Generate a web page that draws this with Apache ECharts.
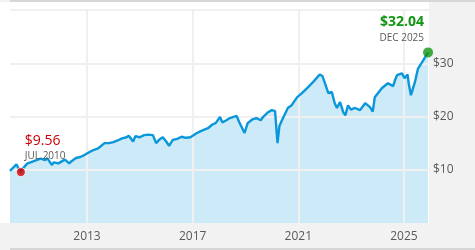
<!DOCTYPE html>
<html><head><meta charset="utf-8">
<script src="https://cdn.jsdelivr.net/npm/echarts@6/dist/echarts.min.js"></script>
<style>html,body{margin:0;padding:0;background:#fff}#c{width:475px;height:250px}</style>
</head><body><div id="c"></div>
<script>
var dates = ['2010-02-01','2010-04-01','2010-05-01','2010-06-01','2010-07-01','2010-08-01','2010-10-01','2010-12-01',
'2011-02-01','2011-04-01','2011-06-01','2011-07-01','2011-09-01','2011-10-01','2011-12-01',
'2012-03-01','2012-05-01','2012-06-01','2012-08-01','2012-10-01','2012-12-01',
'2013-02-01','2013-04-01','2013-06-01','2013-09-01','2013-11-01',
'2014-01-01','2014-03-01','2014-05-01','2014-07-01','2014-08-01','2014-10-01','2014-11-01',
'2015-01-01','2015-03-01','2015-05-01','2015-07-01','2015-08-15','2015-10-01','2015-11-15',
'2016-01-01','2016-02-10','2016-04-01','2016-06-01','2016-08-01','2016-10-01','2016-12-01',
'2017-03-01','2017-05-01','2017-08-01','2017-10-01','2017-11-15',
'2018-01-15','2018-02-15','2018-04-01','2018-06-01','2018-09-01','2018-10-15','2018-12-20',
'2019-02-01','2019-04-01','2019-06-01','2019-08-01','2019-09-01','2019-11-10',
'2020-01-01','2020-02-15','2020-03-20','2020-04-15','2020-05-20','2020-08-10','2020-10-01','2020-10-20','2020-12-15',
'2021-02-20','2021-04-30','2021-07-10','2021-09-10','2021-10-25','2021-12-01',
'2022-01-01','2022-02-20','2022-04-10','2022-05-20','2022-06-20','2022-08-01','2022-09-15','2022-10-15','2022-11-20','2022-12-30',
'2023-02-25','2023-05-05','2023-07-15','2023-09-20','2023-10-28','2023-11-25',
'2024-03-01','2024-05-25','2024-08-05','2024-08-30','2024-09-28','2024-12-05',
'2025-01-10','2025-02-20','2025-03-10','2025-04-08','2025-06-01','2025-07-15','2025-09-10','2025-10-20','2025-12-01'];
var values = [9.8,10.6,11.0,10.2,9.56,10.3,11.2,11.5,
11.8,12.1,11.8,12.2,10.9,11.4,11.2,
11.9,11.2,11.6,12.2,12.4,12.8,
13.3,13.7,14.0,15.0,15.0,
15.2,15.5,15.9,16.1,16.4,15.3,16.3,
16.1,16.5,16.6,16.5,15.0,15.7,16.1,
15.3,14.5,15.6,15.8,16.2,16.0,16.1,
16.9,17.3,17.8,18.5,18.75,
19.9,18.9,19.2,19.7,20.1,18.75,16.9,
18.75,19.4,19.7,19.3,19.9,20.8,
21.2,21.0,15.0,18.2,19.3,21.6,22.1,22.5,23.6,
24.4,25.3,26.25,27.2,27.9,27.6,
26.4,24.4,24.6,22.5,21.6,22.7,20.8,20.25,22.1,21.3,
21.6,21.2,22.5,21.75,20.9,23.6,
25.3,26.25,25.7,26.8,27.75,28.1,
27.2,27.9,26.1,24.0,26.4,29.0,30.2,31.1,32.04];
var yTicks = [10,20,30,40];
var xTickYears = ['2013','2017','2021','2025'];
var startMark = {date:'2010-07-01', value:9.56, label:'$9.56', sub:'JUL 2010'};
var endMark = {date:'2025-12-01', value:32.04, label:'$32.04', sub:'DEC 2025'};

var FONT = '"Open Sans", "Liberation Sans", sans-serif';
var series = dates.map(function(d,i){return [d, values[i]];});
var chart = echarts.init(document.getElementById('c'), null, {renderer:'canvas'});
var gridLines = xTickYears.map(function(y){return {xAxis: y+'-01-01'};}).concat(yTicks.map(function(v){return {yAxis: v};}));
var YEAR = 365.25*24*3600*1000;
var option = {
  animation:false,
  backgroundColor:'#f2f2f2',
  grid:{left:10,right:46,top:10,bottom:27},
  xAxis:{type:'time', min:'2010-02-01', max:'2025-12-14', minInterval:YEAR, maxInterval:YEAR,
    axisLine:{show:false}, axisTick:{show:false}, splitLine:{show:false},
    axisLabel:{interval:0, hideOverlap:false, formatter:function(v){var y=new Date(v).getFullYear()+''; return xTickYears.indexOf(y)>=0 && new Date(v).getMonth()===0 ? y : '';}, color:'#595959', fontSize:12, fontFamily:FONT, margin:8, showMinLabel:false, showMaxLabel:false}
  },
  yAxis:{type:'value', position:'right', min:0, max:40, interval:10,
    axisLine:{show:false}, axisTick:{show:false}, splitLine:{show:false},
    axisLabel:{formatter:function(v){return (v===0||v===40)?'':'$'+v;}, color:'#595959', fontSize:12, fontFamily:FONT, margin:4}
  },
  series:[
    {type:'line', data:series, showSymbol:false, lineStyle:{width:0}, areaStyle:{color:'#cdeaf8', opacity:1}, z:2, silent:true},
    {type:'line', data:[], z:3, silent:true,
      markLine:{z:3, silent:true, symbol:['none','none'], label:{show:false}, lineStyle:{color:'#f0f0f0', width:2, type:'solid'}, data:gridLines}},
    {type:'line', data:series, showSymbol:false, lineStyle:{width:2.4, color:'#0a97d9'}, z:8, silent:true},
    {type:'scatter', data:[[startMark.date,startMark.value]], symbolSize:9, itemStyle:{color:'#d40000', borderColor:'#fff', borderWidth:1}, z:9, silent:true},
    {type:'scatter', data:[[endMark.date,endMark.value]], symbolSize:10, itemStyle:{color:'#129612', borderWidth:0}, z:9, silent:true}
  ]
};
chart.setOption(option);
var p1 = chart.convertToPixel({gridIndex:0},[startMark.date,startMark.value]);
var p2 = chart.convertToPixel({gridIndex:0},[endMark.date,endMark.value]);
chart.setOption({graphic:[
  {type:'rect', z:-100, shape:{x:0,y:2,width:429,height:221}, style:{fill:'#fff'}, silent:true},
  {type:'rect', z:-90, shape:{x:10,y:0,width:465,height:2}, style:{fill:'#d6d6d6'}, silent:true},
  {type:'rect', z:-90, shape:{x:10,y:248,width:465,height:2}, style:{fill:'#d6d6d6'}, silent:true},
  {type:'text', z:100, x:p1[0]+4, y:p1[1]-31, style:{text:startMark.label, fill:'#cc0000', font:'14px '+FONT, textAlign:'left', textVerticalAlign:'middle'}},
  {type:'text', z:100, x:p1[0]+4, y:p1[1]-16, style:{text:startMark.sub, fill:'#595959', font:'10px '+FONT, textAlign:'left', textVerticalAlign:'middle'}},
  {type:'text', z:100, x:p2[0]-4, y:p2[1]-30, style:{text:endMark.label, fill:'#129612', font:'bold 14px '+FONT, textAlign:'right', textVerticalAlign:'middle'}},
  {type:'text', z:100, x:p2[0]-4, y:p2[1]-14, style:{text:endMark.sub, fill:'#595959', font:'10px '+FONT, textAlign:'right', textVerticalAlign:'middle'}}
]});
</script></body></html>
